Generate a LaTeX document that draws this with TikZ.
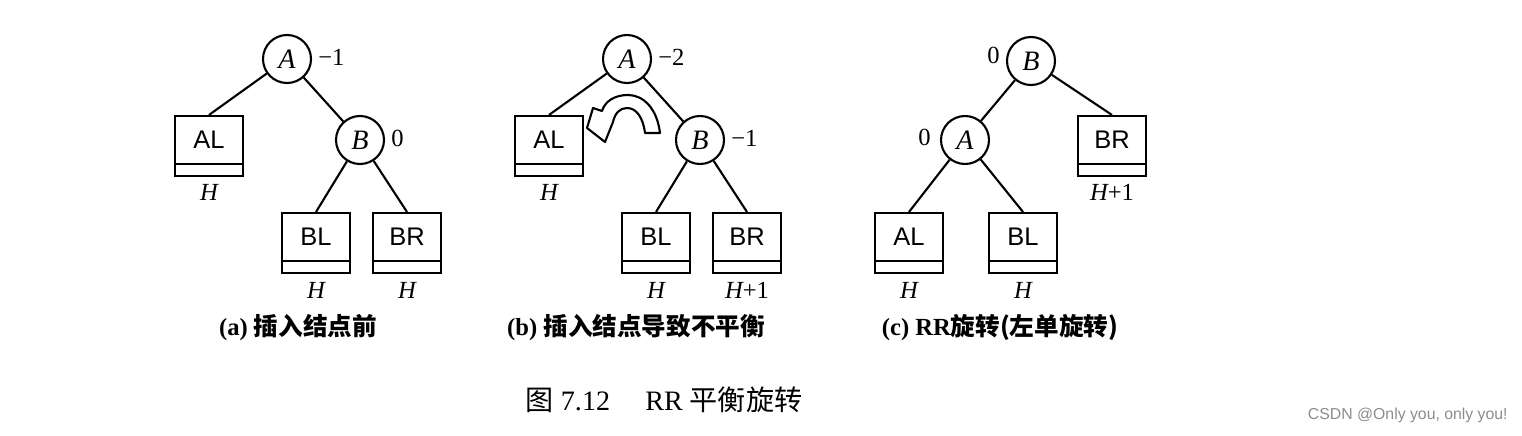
\documentclass[tikz,border=0pt]{standalone}
\usepackage{fontspec}
\setmainfont{Liberation Serif}
\setsansfont{Liberation Sans}
\newfontfamily\cjk{Noto Sans CJK SC}
\newfontfamily\wmfont{Liberation Sans}
\newcommand{\treebox}[3]{%
  \node[tbox] (#1) at (#2) {};
  \node[boxtext] (#1t) at ([yshift=0.12cm]#1.center) {#3};
  \draw[edge] ([yshift=0.26cm]#1.south west) -- ([yshift=0.26cm]#1.south east);
}
\begin{document}
\begin{tikzpicture}[x=0.02cm,y=-0.02cm,
  edge/.style={line width=1.2pt},
  cnode/.style={circle,draw,line width=1.2pt,minimum size=0.96cm,inner sep=0pt,font=\fontsize{16}{16}\selectfont\itshape},
  tbox/.style={rectangle,draw,line width=1.2pt,minimum width=1.36cm,minimum height=1.2cm,inner sep=0pt},
  boxtext/.style={font=\sffamily\fontsize{14.5}{14.5}\selectfont,inner sep=0pt},
  hlab/.style={font=\fontsize{14}{14}\selectfont\itshape,inner sep=0pt},
  bal/.style={font=\fontsize{14}{14}\selectfont,inner sep=0pt},
  subcap/.style={font=\fontsize{14}{14}\selectfont\bfseries,inner sep=0pt},
]
\useasboundingbox (0,0) rectangle (1522,436);
% ---------- (a)
\node[cnode] (A1) at (287,59) {A};
\node[bal,anchor=west] (A1b) at (318,57) {−1};
\treebox{AL1}{209,146}{AL}
\node[cnode] (B1) at (360,140) {B};
\node[bal,anchor=west] (B1b) at (391,138) {0};
\treebox{BL1}{316,243}{BL}
\treebox{BR1}{407,243}{BR}
\node[hlab] (H1) at (209,192) {H};
\node[hlab] (H2) at (316,290) {H};
\node[hlab] (H3) at (407,290) {H};
\draw[edge] (A1) -- (AL1.north);
\draw[edge] (A1) -- (B1);
\draw[edge] (B1) -- (BL1.north);
\draw[edge] (B1) -- (BR1.north);
% ---------- (b)
\node[cnode] (A2) at (627,59) {A};
\node[bal,anchor=west] (A2b) at (658,57) {−2};
\treebox{AL2}{549,146}{AL}
\node[cnode] (B2) at (700,140) {B};
\node[bal,anchor=west] (B2b) at (731,138) {−1};
\treebox{BL2}{656,243}{BL}
\treebox{BR2}{747,243}{BR}
\node[hlab] (H4) at (549,192) {H};
\node[hlab] (H5) at (656,290) {H};
\node[hlab] (H6) at (747,290) {H{\upshape +1}};
\draw[edge] (A2) -- (AL2.north);
\draw[edge] (A2) -- (B2);
\draw[edge] (B2) -- (BL2.north);
\draw[edge] (B2) -- (BR2.north);
% rotation arrow
\draw[line width=1.2pt,line join=round,fill=white]
  (660,133) .. controls (657,108) and (643,95) .. (628,95)
  .. controls (615,95) and (605,101) .. (602,111)
  -- (593,108) -- (587,128) -- (605,142) -- (613,122)
  .. controls (615,113) and (620,108) .. (627,108)
  .. controls (636,108) and (643,117) .. (645,133) -- cycle;
% ---------- (c)
\node[cnode] (B3) at (1031,61) {B};
\node[bal,anchor=east] (B3b) at (1000,55) {0};
\node[cnode] (A3) at (965,140) {A};
\node[bal,anchor=east] (A3b) at (931,137) {0};
\treebox{BR3}{1112,146}{BR}
\treebox{AL3}{909,243}{AL}
\treebox{BL3}{1023,243}{BL}
\node[hlab] (H7) at (1112,192) {H{\upshape +1}};
\node[hlab] (H8) at (909,290) {H};
\node[hlab] (H9) at (1023,290) {H};
\draw[edge] (B3) -- (A3);
\draw[edge] (B3) -- (BR3.north);
\draw[edge] (A3) -- (AL3.north);
\draw[edge] (A3) -- (BL3.north);
% ---------- captions
\node[subcap] (capa) at (298,328) {(a) {\cjk 插入结点前}};
\node[subcap] (capb) at (636,328) {(b) {\cjk 插入结点导致不平衡}};
\node[subcap] (capc) at (1000,328) {(c) RR{\cjk 旋转(左单旋转)}};
\node[font=\fontsize{16}{16}\selectfont,inner sep=0pt] (title) at (664,400) {{\cjk 图}\ 7.12\quad\ RR {\cjk 平衡旋转}};
\node[font=\wmfont\fontsize{9}{9}\selectfont,text=black!45,anchor=east,inner sep=0pt] (wm) at (1508,415) {CSDN @Only you, only you!};
\end{tikzpicture}
\end{document}
